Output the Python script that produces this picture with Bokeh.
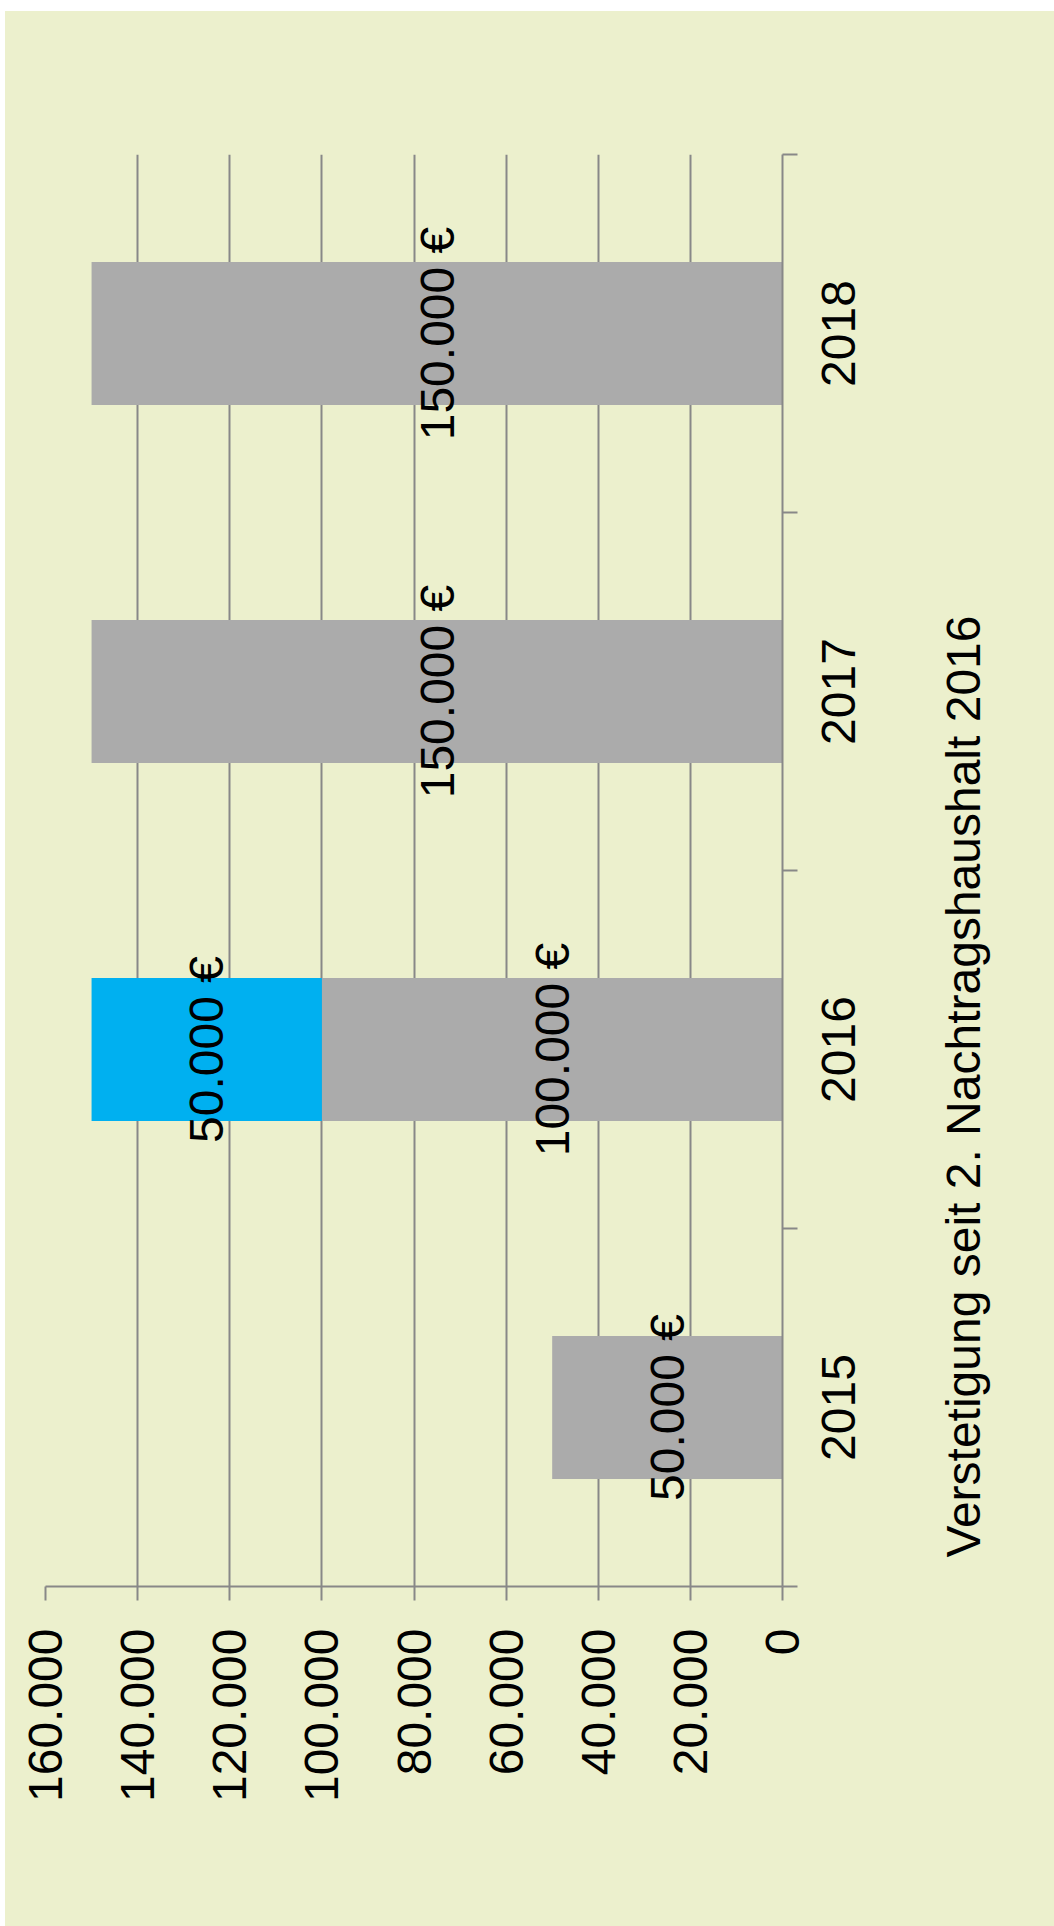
import math
from bokeh.plotting import figure
from bokeh.layouts import row
from bokeh.core.properties import value
from bokeh.models import (Range1d, FixedTicker, CustomJSTickFormatter, ColumnDataSource,
                          LabelSet, Label)
from bokeh.embed import file_html
from bokeh.resources import INLINE

# ---- data ----
years = ["2015", "2016", "2017", "2018"]
base_values = [50000, 100000, 150000, 150000]      # grey segment
extra_values = [0, 50000, 0, 0]                     # blue segment (2. Nachtragshaushalt)
value_ticks = [0, 20000, 40000, 60000, 80000, 100000, 120000, 140000, 160000]
title_text = "Verstetigung seit 2. Nachtragshaushalt 2016"

FONT = "Liberation Sans"
BG = "#ECF0CD"
GRID = "#888888"
GREY = "#ABABAB"
BLUE = "#00B0F0"

def fmt(v):
    return f"{v:,}".replace(",", ".") + " €"

ypos = [i + 0.5 for i in range(len(years))]
yrange = Range1d(0, len(years))

p = figure(width=805, height=1915, output_backend="svg", toolbar_location=None,
           x_range=Range1d(max(value_ticks), 0), y_range=yrange,
           y_axis_location="right", min_border_left=40, min_border_right=28,
           min_border_top=143, min_border_bottom=340)
p.background_fill_color = BG
p.border_fill_color = BG
p.outline_line_color = None

# stacked bars
src_base = ColumnDataSource(dict(y=ypos, left=[0] * len(years), right=base_values,
                                 mid=[v / 2 for v in base_values],
                                 lab=[fmt(v) for v in base_values]))
p.hbar(y="y", left="left", right="right", height=0.4, source=src_base,
       fill_color=GREY, line_color=None)

ey, eleft, eright, emid, elab = [], [], [], [], []
for yy, b, e in zip(ypos, base_values, extra_values):
    if e > 0:
        ey.append(yy); eleft.append(b); eright.append(b + e)
        emid.append(b + e / 2); elab.append(fmt(e))
src_extra = ColumnDataSource(dict(y=ey, left=eleft, right=eright, mid=emid, lab=elab))
p.hbar(y="y", left="left", right="right", height=0.4, source=src_extra,
       fill_color=BLUE, line_color=None)

for src in (src_base, src_extra):
    p.add_layout(LabelSet(x="mid", y="y", text="lab", source=src, angle=math.pi / 2,
                          text_align="center", text_baseline="middle",
                          text_font=value(FONT), text_font_size=value("48px"),
                          text_color="black"))

# value axis (bottom)
xa = p.xaxis[0]
xa.ticker = FixedTicker(ticks=value_ticks, minor_ticks=[])
xa.formatter = CustomJSTickFormatter(code="""
    return String(Math.round(tick)).replace(/\\B(?=(\\d{3})+(?!\\d))/g, ".");
""")
xa.major_label_orientation = math.pi / 2
xa.major_label_text_font = FONT
xa.major_label_text_font_size = "48px"
xa.major_label_text_color = "black"
xa.major_label_standoff = 28
xa.axis_line_color = GRID
xa.axis_line_width = 2
xa.major_tick_line_color = GRID
xa.major_tick_line_width = 2
xa.major_tick_out = 14
xa.major_tick_in = 0
xa.minor_tick_line_color = None

# category axis (right): line + ticks at the category boundaries
ya = p.yaxis[0]
ya.ticker = FixedTicker(ticks=[], minor_ticks=list(range(len(years) + 1)))
ya.axis_line_color = GRID
ya.axis_line_width = 2
ya.major_tick_line_color = None
ya.minor_tick_line_color = GRID
ya.minor_tick_line_width = 2
ya.minor_tick_out = 15
ya.minor_tick_in = 0

p.xgrid.ticker = FixedTicker(ticks=value_ticks)
p.xgrid.grid_line_color = GRID
p.xgrid.grid_line_width = 2
p.ygrid.visible = False

# right panel: category labels and title
t = figure(width=244, height=1915, output_backend="svg", toolbar_location=None,
           x_range=Range1d(0, 1), y_range=yrange,
           x_axis_location=None, y_axis_location=None, min_border=0)
t.background_fill_color = None
t.border_fill_color = BG
t.outline_line_color = None
t.xgrid.visible = False
t.ygrid.visible = False

src_cat = ColumnDataSource(dict(y=ypos, text=years))
t.add_layout(LabelSet(x=27.5, y="y", text="text", source=src_cat, x_units="screen",
                      angle=math.pi / 2, text_align="center", text_baseline="middle",
                      text_font=value(FONT), text_font_size=value("48px"),
                      text_color="black"))
t.add_layout(Label(x=153, y=500, x_units="screen", y_units="screen", text=title_text,
                   angle=math.pi / 2, text_align="center", text_baseline="alphabetic",
                   text_font=FONT, text_font_size="48px", text_color="black"))

layout = row(p, t, spacing=0)
layout.margin = (11, 0, 0, 5)
layout.styles = {"background-color": BG}
open("out.html", "w").write(file_html(layout, INLINE))
